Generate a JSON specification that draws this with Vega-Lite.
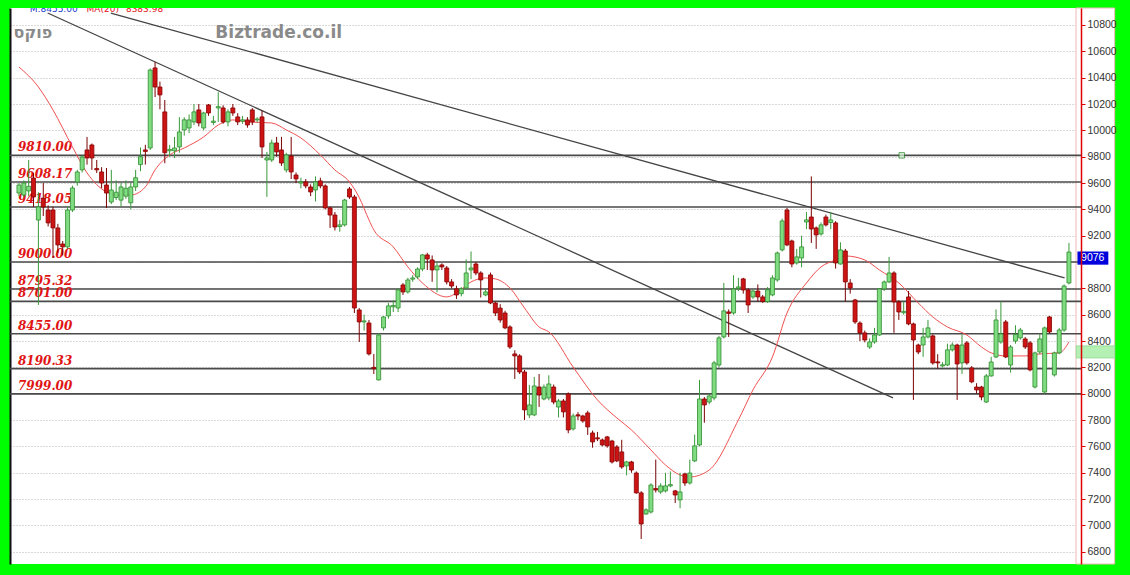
{
"$schema": "https://vega.github.io/schema/vega-lite/v6.json",
"width": 1071, "height": 556,
"autosize": {"type": "none"},
"padding": {"left": 10, "top": 8, "right": 49, "bottom": 11},
"background": "#00ff00",
"config": {"view": {"stroke": null, "fill": "#ffffff"}},
"resolve": {"axis": {"y": "independent"}},
"datasets": {
"candles": [
{"day":0,"open":9524,"high":9600,"low":9500,"close":9585},
{"day":1,"open":9509,"high":9620,"low":9490,"close":9600},
{"day":2,"open":9540,"high":9775,"low":9500,"close":9575},
{"day":3,"open":9638,"high":9676,"low":9418,"close":9494},
{"day":4,"open":9319,"high":9530,"low":8674,"close":9418},
{"day":5,"open":9486,"high":9600,"low":9350,"close":9418},
{"day":6,"open":9395,"high":9430,"low":9270,"close":9297},
{"day":7,"open":9395,"high":9420,"low":9031,"close":9259},
{"day":8,"open":9259,"high":9290,"low":9070,"close":9130},
{"day":9,"open":9137,"high":9160,"low":9050,"close":9115},
{"day":10,"open":9115,"high":9420,"low":9100,"close":9395},
{"day":11,"open":9395,"high":9580,"low":9380,"close":9562},
{"day":12,"open":9608,"high":9700,"low":9580,"close":9684},
{"day":13,"open":9700,"high":9810,"low":9680,"close":9798},
{"day":14,"open":9851,"high":9950,"low":9740,"close":9790},
{"day":15,"open":9889,"high":9900,"low":9700,"close":9790},
{"day":16,"open":9710,"high":9775,"low":9676,"close":9700},
{"day":17,"open":9684,"high":9720,"low":9560,"close":9600},
{"day":18,"open":9585,"high":9714,"low":9410,"close":9524},
{"day":19,"open":9456,"high":9700,"low":9440,"close":9547},
{"day":20,"open":9490,"high":9620,"low":9470,"close":9530},
{"day":21,"open":9470,"high":9600,"low":9420,"close":9570},
{"day":22,"open":9500,"high":9620,"low":9480,"close":9560},
{"day":23,"open":9450,"high":9600,"low":9400,"close":9570},
{"day":24,"open":9570,"high":9700,"low":9540,"close":9640},
{"day":25,"open":9740,"high":9870,"low":9690,"close":9800},
{"day":26,"open":9851,"high":9890,"low":9740,"close":9840},
{"day":27,"open":9866,"high":10470,"low":9850,"close":10458},
{"day":28,"open":10474,"high":10520,"low":10253,"close":10329},
{"day":29,"open":10329,"high":10370,"low":10160,"close":10269},
{"day":30,"open":10140,"high":10230,"low":9750,"close":9830},
{"day":31,"open":9845,"high":9890,"low":9800,"close":9855},
{"day":32,"open":9845,"high":9950,"low":9790,"close":9866},
{"day":33,"open":9874,"high":10100,"low":9830,"close":9988},
{"day":34,"open":10003,"high":10100,"low":9960,"close":10080},
{"day":35,"open":10018,"high":10120,"low":9980,"close":10079},
{"day":36,"open":10064,"high":10200,"low":10040,"close":10140},
{"day":37,"open":10155,"high":10200,"low":10030,"close":10056},
{"day":38,"open":10018,"high":10140,"low":10000,"close":10132},
{"day":39,"open":10193,"high":10200,"low":10110,"close":10132},
{"day":40,"open":10060,"high":10110,"low":10040,"close":10070},
{"day":41,"open":10170,"high":10290,"low":10064,"close":10180},
{"day":42,"open":10170,"high":10190,"low":10050,"close":10064},
{"day":43,"open":10064,"high":10160,"low":10030,"close":10140},
{"day":44,"open":10170,"high":10200,"low":10110,"close":10132},
{"day":45,"open":10102,"high":10130,"low":10040,"close":10064},
{"day":46,"open":10070,"high":10110,"low":10050,"close":10080},
{"day":47,"open":10079,"high":10100,"low":10020,"close":10041},
{"day":48,"open":10155,"high":10170,"low":10040,"close":10064},
{"day":49,"open":10079,"high":10100,"low":10060,"close":10086},
{"day":50,"open":10102,"high":10150,"low":9790,"close":9874},
{"day":51,"open":9775,"high":9836,"low":9495,"close":9790},
{"day":52,"open":9775,"high":9930,"low":9760,"close":9904},
{"day":53,"open":9904,"high":9950,"low":9800,"close":9836},
{"day":54,"open":9851,"high":9950,"low":9730,"close":9752},
{"day":55,"open":9699,"high":9830,"low":9680,"close":9813},
{"day":56,"open":9805,"high":9950,"low":9630,"close":9684},
{"day":57,"open":9661,"high":9680,"low":9600,"close":9631},
{"day":58,"open":9600,"high":9640,"low":9560,"close":9608},
{"day":59,"open":9608,"high":9630,"low":9560,"close":9578},
{"day":60,"open":9570,"high":9590,"low":9500,"close":9532},
{"day":61,"open":9547,"high":9650,"low":9460,"close":9608},
{"day":62,"open":9616,"high":9640,"low":9560,"close":9578},
{"day":63,"open":9578,"high":9590,"low":9400,"close":9411},
{"day":64,"open":9411,"high":9420,"low":9259,"close":9357},
{"day":65,"open":9357,"high":9380,"low":9240,"close":9266},
{"day":66,"open":9270,"high":9320,"low":9230,"close":9282},
{"day":67,"open":9282,"high":9480,"low":9270,"close":9471},
{"day":68,"open":9555,"high":9570,"low":9480,"close":9494},
{"day":69,"open":9494,"high":9510,"low":8613,"close":8651},
{"day":70,"open":8636,"high":8650,"low":8393,"close":8545},
{"day":71,"open":8545,"high":8600,"low":8480,"close":8553},
{"day":72,"open":8537,"high":8560,"low":8290,"close":8302},
{"day":73,"open":8200,"high":8302,"low":8150,"close":8190},
{"day":74,"open":8105,"high":8460,"low":8100,"close":8446},
{"day":75,"open":8500,"high":8590,"low":8480,"close":8583},
{"day":76,"open":8591,"high":8690,"low":8570,"close":8667},
{"day":77,"open":8660,"high":8710,"low":8620,"close":8670},
{"day":78,"open":8651,"high":8800,"low":8620,"close":8788},
{"day":79,"open":8826,"high":8840,"low":8750,"close":8773},
{"day":80,"open":8773,"high":8880,"low":8760,"close":8864},
{"day":81,"open":8870,"high":8900,"low":8850,"close":8879},
{"day":82,"open":8887,"high":8960,"low":8870,"close":8947},
{"day":83,"open":8947,"high":9060,"low":8930,"close":9054},
{"day":84,"open":9054,"high":9070,"low":8940,"close":9023},
{"day":85,"open":9016,"high":9050,"low":8850,"close":8940},
{"day":86,"open":8940,"high":9000,"low":8770,"close":8970},
{"day":87,"open":8978,"high":8990,"low":8940,"close":8963},
{"day":88,"open":8955,"high":8970,"low":8830,"close":8849},
{"day":89,"open":8849,"high":8870,"low":8800,"close":8818},
{"day":90,"open":8796,"high":8820,"low":8720,"close":8750},
{"day":91,"open":8760,"high":8810,"low":8740,"close":8796},
{"day":92,"open":8803,"high":9020,"low":8790,"close":8917},
{"day":93,"open":8940,"high":9080,"low":8870,"close":8955},
{"day":94,"open":8985,"high":9000,"low":8900,"close":8917},
{"day":95,"open":8917,"high":8930,"low":8730,"close":8864},
{"day":96,"open":8750,"high":8790,"low":8740,"close":8773},
{"day":97,"open":8902,"high":8920,"low":8680,"close":8689},
{"day":98,"open":8689,"high":8700,"low":8590,"close":8613},
{"day":99,"open":8650,"high":8680,"low":8540,"close":8560},
{"day":100,"open":8613,"high":8630,"low":8490,"close":8500},
{"day":101,"open":8507,"high":8520,"low":8340,"close":8355},
{"day":102,"open":8302,"high":8330,"low":8112,"close":8287},
{"day":103,"open":8287,"high":8300,"low":8150,"close":8165},
{"day":104,"open":8165,"high":8180,"low":7801,"close":7877},
{"day":105,"open":7839,"high":8067,"low":7815,"close":7915},
{"day":106,"open":7839,"high":8127,"low":7830,"close":8059},
{"day":107,"open":8051,"high":8150,"low":7900,"close":7990},
{"day":108,"open":7960,"high":8070,"low":7950,"close":8051},
{"day":109,"open":7968,"high":8140,"low":7950,"close":8074},
{"day":110,"open":8051,"high":8070,"low":7920,"close":7937},
{"day":111,"open":7899,"high":7960,"low":7820,"close":7945},
{"day":112,"open":7945,"high":7960,"low":7820,"close":7862},
{"day":113,"open":7998,"high":8010,"low":7700,"close":7725},
{"day":114,"open":7733,"high":7850,"low":7720,"close":7831},
{"day":115,"open":7840,"high":7860,"low":7800,"close":7831},
{"day":116,"open":7831,"high":7840,"low":7780,"close":7793},
{"day":117,"open":7854,"high":7870,"low":7687,"close":7748},
{"day":118,"open":7702,"high":7720,"low":7590,"close":7634},
{"day":119,"open":7665,"high":7710,"low":7640,"close":7657},
{"day":120,"open":7649,"high":7660,"low":7600,"close":7611},
{"day":121,"open":7672,"high":7680,"low":7590,"close":7604},
{"day":122,"open":7641,"high":7650,"low":7470,"close":7482},
{"day":123,"open":7596,"high":7610,"low":7480,"close":7490},
{"day":124,"open":7558,"high":7650,"low":7430,"close":7444},
{"day":125,"open":7452,"high":7490,"low":7380,"close":7482},
{"day":126,"open":7482,"high":7490,"low":7400,"close":7421},
{"day":127,"open":7398,"high":7410,"low":7240,"close":7247},
{"day":128,"open":7247,"high":7260,"low":6897,"close":7011},
{"day":129,"open":7087,"high":7130,"low":7080,"close":7118},
{"day":130,"open":7102,"high":7320,"low":7090,"close":7307},
{"day":131,"open":7280,"high":7500,"low":7250,"close":7269},
{"day":132,"open":7254,"high":7320,"low":7240,"close":7300},
{"day":133,"open":7262,"high":7400,"low":7250,"close":7300},
{"day":134,"open":7300,"high":7410,"low":7290,"close":7310},
{"day":135,"open":7262,"high":7270,"low":7170,"close":7231},
{"day":136,"open":7194,"high":7400,"low":7130,"close":7254},
{"day":137,"open":7391,"high":7400,"low":7300,"close":7322},
{"day":138,"open":7322,"high":7500,"low":7310,"close":7398},
{"day":139,"open":7490,"high":7690,"low":7480,"close":7604},
{"day":140,"open":7611,"high":8105,"low":7600,"close":7960},
{"day":141,"open":7960,"high":7975,"low":7780,"close":7915},
{"day":142,"open":7937,"high":8000,"low":7920,"close":7983},
{"day":143,"open":7968,"high":8250,"low":7950,"close":8234},
{"day":144,"open":8218,"high":8440,"low":8200,"close":8424},
{"day":145,"open":8431,"high":8841,"low":8420,"close":8629},
{"day":146,"open":8621,"high":8640,"low":8431,"close":8610},
{"day":147,"open":8613,"high":8900,"low":8600,"close":8795},
{"day":148,"open":8800,"high":8880,"low":8780,"close":8811},
{"day":149,"open":8872,"high":8880,"low":8760,"close":8788},
{"day":150,"open":8788,"high":8800,"low":8613,"close":8674},
{"day":151,"open":8735,"high":8790,"low":8720,"close":8780},
{"day":152,"open":8780,"high":8830,"low":8700,"close":8735},
{"day":153,"open":8735,"high":8750,"low":8690,"close":8700},
{"day":154,"open":8700,"high":8810,"low":8690,"close":8790},
{"day":155,"open":8750,"high":8900,"low":8740,"close":8879},
{"day":156,"open":8864,"high":9080,"low":8850,"close":9069},
{"day":157,"open":9092,"high":9330,"low":9080,"close":9312},
{"day":158,"open":9395,"high":9410,"low":9120,"close":9130},
{"day":159,"open":9160,"high":9170,"low":8960,"close":8985},
{"day":160,"open":8993,"high":9100,"low":8980,"close":9039},
{"day":161,"open":9031,"high":9200,"low":8960,"close":9115},
{"day":162,"open":9304,"high":9380,"low":9250,"close":9320},
{"day":163,"open":9342,"high":9650,"low":9145,"close":9251},
{"day":164,"open":9259,"high":9270,"low":9100,"close":9206},
{"day":165,"open":9213,"high":9300,"low":9200,"close":9282},
{"day":166,"open":9342,"high":9360,"low":9270,"close":9282},
{"day":167,"open":9300,"high":9380,"low":9250,"close":9320},
{"day":168,"open":9297,"high":9310,"low":8950,"close":8993},
{"day":169,"open":8985,"high":9150,"low":8980,"close":9092},
{"day":170,"open":9084,"high":9100,"low":8700,"close":8849},
{"day":171,"open":8841,"high":8870,"low":8760,"close":8803},
{"day":172,"open":8712,"high":8720,"low":8530,"close":8545},
{"day":173,"open":8537,"high":8550,"low":8400,"close":8462},
{"day":174,"open":8462,"high":8480,"low":8390,"close":8408},
{"day":175,"open":8355,"high":8420,"low":8340,"close":8393},
{"day":176,"open":8393,"high":8500,"low":8380,"close":8446},
{"day":177,"open":8446,"high":8800,"low":8440,"close":8796},
{"day":178,"open":8796,"high":8860,"low":8780,"close":8849},
{"day":179,"open":8849,"high":9039,"low":8840,"close":8917},
{"day":180,"open":8917,"high":8930,"low":8462,"close":8697},
{"day":181,"open":8697,"high":8710,"low":8560,"close":8621},
{"day":182,"open":8615,"high":8700,"low":8600,"close":8625},
{"day":183,"open":8735,"high":8780,"low":8520,"close":8530},
{"day":184,"open":8530,"high":8540,"low":7953,"close":8408},
{"day":185,"open":8370,"high":8380,"low":8300,"close":8317},
{"day":186,"open":8370,"high":8500,"low":8280,"close":8431},
{"day":187,"open":8431,"high":8560,"low":8420,"close":8500},
{"day":188,"open":8439,"high":8450,"low":8220,"close":8234},
{"day":189,"open":8242,"high":8300,"low":8190,"close":8234},
{"day":190,"open":8211,"high":8240,"low":8200,"close":8220},
{"day":191,"open":8218,"high":8380,"low":8210,"close":8333},
{"day":192,"open":8333,"high":8390,"low":8320,"close":8370},
{"day":193,"open":8370,"high":8380,"low":7953,"close":8226},
{"day":194,"open":8234,"high":8450,"low":8150,"close":8370},
{"day":195,"open":8386,"high":8400,"low":8220,"close":8234},
{"day":196,"open":8196,"high":8210,"low":8080,"close":8090},
{"day":197,"open":8051,"high":8080,"low":8000,"close":8029},
{"day":198,"open":8051,"high":8060,"low":7950,"close":7975},
{"day":199,"open":7937,"high":8150,"low":7930,"close":8135},
{"day":200,"open":8135,"high":8280,"low":8130,"close":8241},
{"day":201,"open":8279,"high":8640,"low":8270,"close":8560},
{"day":202,"open":8393,"high":8700,"low":8380,"close":8454},
{"day":203,"open":8545,"high":8560,"low":8270,"close":8279},
{"day":204,"open":8218,"high":8370,"low":8160,"close":8355},
{"day":205,"open":8400,"high":8520,"low":8380,"close":8450},
{"day":206,"open":8424,"high":8500,"low":8410,"close":8484},
{"day":207,"open":8416,"high":8430,"low":8340,"close":8355},
{"day":208,"open":8386,"high":8400,"low":8170,"close":8181},
{"day":209,"open":8051,"high":8320,"low":8040,"close":8310},
{"day":210,"open":8317,"high":8450,"low":8300,"close":8416},
{"day":211,"open":8013,"high":8510,"low":8000,"close":8500},
{"day":212,"open":8583,"high":8590,"low":8460,"close":8469},
{"day":213,"open":8143,"high":8320,"low":8130,"close":8310},
{"day":214,"open":8310,"high":8500,"low":8300,"close":8484},
{"day":215,"open":8484,"high":8830,"low":8470,"close":8818},
{"day":216,"open":8841,"high":9145,"low":8830,"close":9076}
],
"ma": [
{"day":0,"ma":10481},{"day":4,"ma":10329},{"day":7,"ma":10155},{"day":11,"ma":9874},{"day":14,"ma":9677},
{"day":18,"ma":9532},{"day":20,"ma":9509},{"day":23,"ma":9509},{"day":26,"ma":9570},{"day":28,"ma":9700},
{"day":31,"ma":9813},{"day":34,"ma":9866},{"day":38,"ma":9950},{"day":41,"ma":10041},{"day":44,"ma":10079},
{"day":47,"ma":10064},{"day":52,"ma":10056},{"day":55,"ma":10003},{"day":58,"ma":9942},{"day":62,"ma":9813},
{"day":65,"ma":9699},{"day":68,"ma":9608},{"day":70,"ma":9490},{"day":72,"ma":9320},{"day":73,"ma":9244},
{"day":77,"ma":9115},{"day":80,"ma":8963},{"day":83,"ma":8841},{"day":88,"ma":8735},{"day":90,"ma":8765},
{"day":93,"ma":8849},{"day":96,"ma":8879},{"day":98,"ma":8872},{"day":101,"ma":8803},{"day":104,"ma":8651},
{"day":107,"ma":8507},{"day":109,"ma":8470},{"day":114,"ma":8203},{"day":119,"ma":7953},{"day":123,"ma":7816},
{"day":126,"ma":7725},{"day":130,"ma":7573},{"day":133,"ma":7459},{"day":136,"ma":7383},{"day":138,"ma":7368},
{"day":142,"ma":7421},{"day":148,"ma":7801},{"day":151,"ma":8029},{"day":155,"ma":8279},{"day":158,"ma":8613},
{"day":162,"ma":8841},{"day":165,"ma":8963},{"day":168,"ma":9016},{"day":170,"ma":9046},{"day":174,"ma":9016},
{"day":177,"ma":8940},{"day":181,"ma":8841},{"day":185,"ma":8689},{"day":188,"ma":8583},{"day":191,"ma":8507},
{"day":195,"ma":8446},{"day":198,"ma":8355},{"day":200,"ma":8310},{"day":203,"ma":8287},{"day":207,"ma":8287},
{"day":210,"ma":8302},{"day":214,"ma":8310},{"day":216,"ma":8393}
],
"levels": [
{"level":9810},{"level":9608.17},{"level":9418.05},{"level":9000},{"level":8795.32},
{"level":8701},{"level":8455},{"level":8190.33},{"level":7999}
],
"trends": [
{"line":"A","day":5.9,"price":10891},{"line":"A","day":179.8,"price":7968},
{"line":"B","day":18.9,"price":10891},{"line":"B","day":215.1,"price":8879}
]
},
"layer": [
{
"data": {"values": [{}]},
"mark": {"type": "rect", "fill": "#ffffff", "stroke": "#f0b8b8", "strokeWidth": 1},
"encoding": {
"x": {"datum": 217.45, "type": "quantitative", "scale": {"domain": [-0.815, 217.45], "nice": false, "zero": false},
"axis": {"orient": "bottom", "grid": true, "values": [1.8, 21.8, 42.8, 60.9, 79.9, 99.9, 122.9, 143.1, 162.8, 181, 201.8], "gridColor": "#b4b4b4", "gridDash": [1, 2], "labels": false, "ticks": false, "domainColor": "#111111", "domainWidth": 2, "title": null, "zindex": 0}},
"x2": {"datum": 225.4},
"y": {"datum": 6707, "type": "quantitative", "scale": {"domain": [6707, 10929], "nice": false, "zero": false},
"axis": {"orient": "left", "grid": true, "values": [6800,7000,7200,7400,7600,7800,8000,8200,8400,8600,8800,9000,9200,9400,9600,9800,10000,10200,10400,10600,10800], "gridColor": "#b4b4b4", "gridDash": [1, 2], "labels": false, "ticks": false, "domainColor": "#111111", "domainWidth": 2, "title": null, "zindex": 0}},
"y2": {"datum": 10929}
}
},
{
"data": {"values": [{}]},
"mark": {"type": "rect", "fill": "#b4efb4", "stroke": "#9ade9a", "strokeWidth": 1},
"encoding": {
"x": {"datum": 217.5, "type": "quantitative", "axis": null},
"x2": {"datum": 225.4},
"y": {"datum": 8272, "type": "quantitative", "axis": {"orient": "right", "grid": false, "values": [6800,7000,7200,7400,7600,7800,8000,8200,8400,8600,8800,9200,9400,9600,9800,10000,10200,10400,10600,10800], "format": "d", "domainColor": "#e00000", "domainWidth": 1.5, "tickColor": "#e00000", "tickSize": 4, "labelFont": "Liberation Sans", "labelFontSize": 10.5, "labelColor": "#333333", "labelPadding": 2, "title": null, "zindex": 2}},
"y2": {"datum": 8363}
}
},
{
"data": {"name": "levels"},
"mark": {"type": "rule", "color": "#4a4a4a", "strokeWidth": 1.6},
"encoding": {"y": {"field": "level", "type": "quantitative", "axis": null}}
},
{
"data": {"name": "levels"},
"mark": {"type": "text", "align": "left", "baseline": "alphabetic", "dy": -4, "font": "DejaVu Serif", "fontSize": 12, "fontWeight": "bold", "fontStyle": "italic", "color": "#e01414"},
"encoding": {
"x": {"datum": -0.2, "type": "quantitative", "axis": null},
"y": {"field": "level", "type": "quantitative", "axis": null},
"text": {"field": "level", "type": "quantitative", "format": ".2f"}
}
},
{
"data": {"name": "trends"},
"mark": {"type": "line", "color": "#444444", "strokeWidth": 1.3},
"encoding": {
"x": {"field": "day", "type": "quantitative", "axis": null},
"y": {"field": "price", "type": "quantitative", "axis": null},
"detail": {"field": "line"}
}
},
{
"data": {"name": "ma"},
"mark": {"type": "line", "color": "#f05050", "strokeWidth": 1, "interpolate": "monotone"},
"encoding": {
"x": {"field": "day", "type": "quantitative", "axis": null},
"y": {"field": "ma", "type": "quantitative", "axis": null}
}
},
{
"data": {"name": "candles"},
"mark": {"type": "rule", "strokeWidth": 1},
"encoding": {
"x": {"field": "day", "type": "quantitative", "axis": null},
"y": {"field": "low", "type": "quantitative", "axis": null},
"y2": {"field": "high"},
"color": {"condition": {"test": "datum.close >= datum.open", "value": "#3a9a3a"}, "value": "#7a0000"}
}
},
{
"data": {"name": "candles"},
"mark": {"type": "bar", "width": 4, "strokeWidth": 0.8},
"encoding": {
"x": {"field": "day", "type": "quantitative", "axis": null},
"y": {"field": "open", "type": "quantitative", "axis": null},
"y2": {"field": "close"},
"fill": {"condition": {"test": "datum.close >= datum.open", "value": "#80dc80"}, "value": "#cc1414"},
"stroke": {"condition": {"test": "datum.close >= datum.open", "value": "#2e8b2e"}, "value": "#8a0000"}
}
},
{
"data": {"values": [{"text": "Biztrade.co.il"}]},
"mark": {"type": "text", "align": "left", "baseline": "alphabetic", "font": "DejaVu Sans", "fontSize": 17, "fontWeight": "bold", "color": "#8a8a8a"},
"encoding": {
"x": {"datum": 40.4, "type": "quantitative", "axis": null},
"y": {"datum": 10701, "type": "quantitative", "axis": null},
"text": {"field": "text"}
}
},
{
"data": {"values": [{"text": "פוקס"}]},
"mark": {"type": "text", "align": "left", "baseline": "alphabetic", "font": "DejaVu Sans", "fontSize": 16, "fontWeight": "bold", "color": "#8a8a8a"},
"encoding": {
"x": {"datum": -1.1, "type": "quantitative", "axis": null},
"y": {"datum": 10701, "type": "quantitative", "axis": null},
"text": {"field": "text"}
}
},
{
"data": {"values": [{"text": "M:8455.00", "pos": 2.2, "tone": "m"}, {"text": "MA(20)", "pos": 13.9, "tone": "a"}, {"text": "8383.98", "pos": 22, "tone": "a"}]},
"mark": {"type": "text", "align": "left", "baseline": "alphabetic", "font": "DejaVu Sans", "fontSize": 9, "clip": true},
"encoding": {
"x": {"field": "pos", "type": "quantitative", "axis": null},
"y": {"datum": 10896, "type": "quantitative", "axis": null},
"text": {"field": "text"},
"color": {"field": "tone", "type": "nominal", "scale": {"domain": ["m", "a"], "range": ["#2244cc", "#e02020"]}, "legend": null}
}
},
{
"data": {"values": [{"marker": 9810}]},
"mark": {"type": "point", "shape": "square", "size": 30, "filled": true, "fill": "#d8f5d8", "stroke": "#1f7f1f", "strokeWidth": 1},
"encoding": {
"x": {"datum": 181.6, "type": "quantitative", "axis": null},
"y": {"field": "marker", "type": "quantitative", "axis": null}
}
},
{
"data": {"values": [{}]},
"mark": {"type": "rect", "fill": "#0000dd"},
"encoding": {
"x": {"datum": 217.75, "type": "quantitative", "axis": null},
"x2": {"datum": 224.1},
"y": {"datum": 8980, "type": "quantitative", "axis": null},
"y2": {"datum": 9080}
}
},
{
"data": {"values": [{"last": "9076"}]},
"mark": {"type": "text", "align": "center", "baseline": "middle", "font": "Liberation Sans", "fontSize": 10.5, "color": "#ffffff"},
"encoding": {
"x": {"datum": 220.9, "type": "quantitative", "axis": null},
"y": {"datum": 9030, "type": "quantitative", "axis": null},
"text": {"field": "last"}
}
}
]
}
